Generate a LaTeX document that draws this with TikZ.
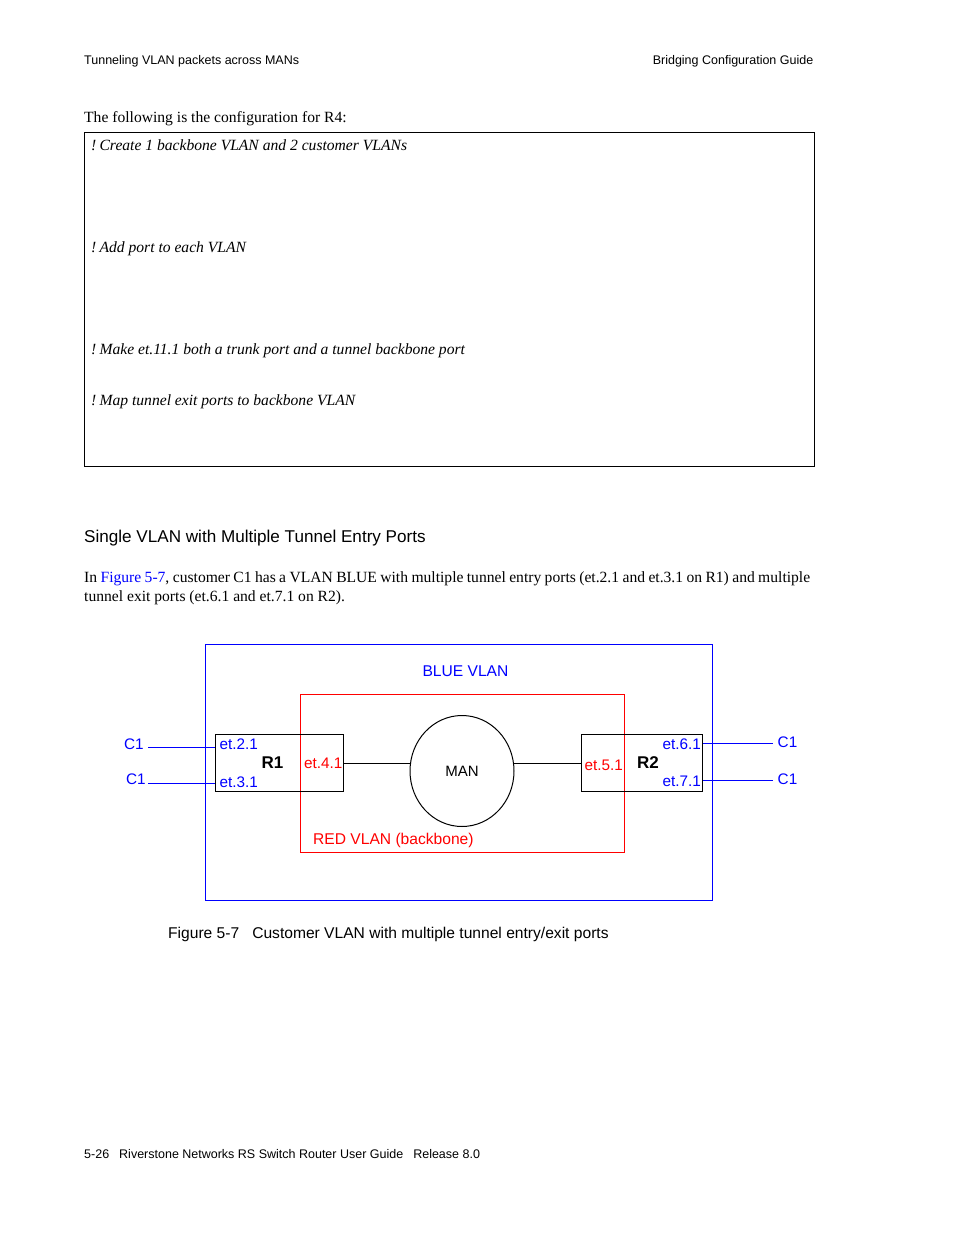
\documentclass[tikz,border=0pt]{standalone}
\usepackage{fontspec}
\setmainfont{Liberation Serif}
\setsansfont{Liberation Sans}
\usetikzlibrary{shapes.geometric}
\definecolor{lblue}{RGB}{0,0,255}
\definecolor{lred}{RGB}{255,0,0}
\tikzset{
  hdr/.style={font=\sffamily\fontsize{12.5}{15}\selectfont, inner sep=0pt},
  body/.style={font=\fontsize{15.6}{18.5}\selectfont, inner sep=0pt},
  cmt/.style={font=\itshape\fontsize{15.6}{18.5}\selectfont, inner sep=0pt, anchor=base west},
  head/.style={font=\sffamily\fontsize{17.1}{20}\selectfont, inner sep=0pt, anchor=base west},
  lbl/.style={font=\sffamily\fontsize{15.3}{18}\selectfont, inner sep=0pt},
  biglbl/.style={font=\sffamily\fontsize{15.6}{18}\selectfont, inner sep=0pt},
  rlbl/.style={font=\sffamily\bfseries\fontsize{17}{20}\selectfont, inner sep=0pt, anchor=base},
  frame/.style={draw, line width=1pt, inner sep=0pt},
  wire/.style={draw, line width=1pt},
}
\begin{document}
\begin{tikzpicture}[x=1pt,y=-1pt]
\fill[white] (0,0) rectangle (954,1235);
\useasboundingbox (0,0) rectangle (954,1235);

% page header
\node[hdr, anchor=base west] (hl) at (84,64) {Tunneling VLAN packets across MANs};
\node[hdr, anchor=base east] (hr) at (813.5,64) {Bridging Configuration Guide};

\node[body, anchor=base west] (intro) at (84,122.5) {The following is the configuration for R4:};

% configuration box
\node[frame, minimum width=730pt, minimum height=334pt] (cfg) at (449,299) {};
\node[cmt] (c1) at (91,150.5) {!\hspace{3.2pt}Create 1 backbone VLAN and 2 customer VLANs};
\node[cmt] (c2) at (91,252) {!\hspace{3.2pt}Add port to each VLAN};
\node[cmt] (c3) at (91,354) {!\hspace{3.2pt}Make et.11.1 both a trunk port and a tunnel backbone port};
\node[cmt] (c4) at (91,405) {!\hspace{3.2pt}Map tunnel exit ports to backbone VLAN};

% section heading
\node[head] (sec) at (84,542.5) {Single VLAN with Multiple Tunnel Entry Ports};

% paragraph
\node[body, anchor=base west, text width=726pt, align=justify] (para) at (84,582.5)
  {In \textcolor{lblue}{Figure 5-7}, customer C1 has a VLAN BLUE with multiple tunnel entry ports (et.2.1 and et.3.1 on R1) and multiple\linebreak tunnel exit ports (et.6.1 and et.7.1 on R2).};

% figure
\node[frame, draw=lblue, minimum width=507pt, minimum height=256pt] (blue) at (458.5,772) {};
\node[biglbl, text=lblue, anchor=base] (bluet) at (465.5,676.5) {BLUE VLAN};
\node[frame, draw=lred, minimum width=324pt, minimum height=158pt] (red) at (462,773) {};
\node[biglbl, text=lred, anchor=base west] (redt) at (313,844.5) {RED VLAN (backbone)};

\node[frame, minimum width=128pt, minimum height=57pt] (R1) at (279,762.5) {};
\node[frame, minimum width=121pt, minimum height=57pt] (R2) at (641.5,762.5) {};
\node[frame, ellipse, minimum width=104pt, minimum height=111pt, font=\sffamily\fontsize{15}{18}\selectfont] (man) at (462,771) {\raisebox{-1pt}{MAN}};

\node[rlbl] (r1t) at (272.5,768.5) {R1};
\node[rlbl] (r2t) at (648,768.5) {R2};
\node[lbl, text=lblue, anchor=base west] (e21) at (219.5,749.5) {et.2.1};
\node[lbl, text=lblue, anchor=base west] (e31) at (219.5,787.5) {et.3.1};
\node[lbl, text=lred, anchor=base east] (e41) at (342.5,768.5) {et.4.1};
\node[lbl, text=lred, anchor=base west] (e51) at (584.5,770) {et.5.1};
\node[lbl, text=lblue, anchor=base east] (e61) at (701,749) {et.6.1};
\node[lbl, text=lblue, anchor=base east] (e71) at (701,786) {et.7.1};

\node[lbl, text=lblue, anchor=base west] (ca) at (124,749) {C1};
\node[lbl, text=lblue, anchor=base west] (cb) at (126,784) {C1};
\node[lbl, text=lblue, anchor=base west] (cc) at (777.5,747.5) {C1};
\node[lbl, text=lblue, anchor=base west] (cd) at (777.5,784) {C1};

% connectors
\coordinate (la) at (148,747);
\coordinate (lb) at (148,783);
\coordinate (lc) at (773,743);
\coordinate (ld) at (773,780);
\draw[wire, lblue] (la) -- (la -| R1.west);
\draw[wire, lblue] (lb) -- (lb -| R1.west);
\draw[wire, lblue] (R2.east |- lc) -- (lc);
\draw[wire, lblue] (R2.east |- ld) -- (ld);
\coordinate (ma) at (410.5,763);
\coordinate (mb) at (513.5,763);
\draw[wire] (R1.east |- ma) -- (ma);
\draw[wire] (mb) -- (R2.west |- mb);

% caption
\node[biglbl, anchor=base west] (cap) at (168,938) {Figure 5-7\hspace{13pt}Customer VLAN with multiple tunnel entry/exit ports};

% footer
\node[hdr, anchor=base west] (foot) at (84,1158.5) {5-26\hspace{10pt}Riverstone Networks RS Switch Router User Guide\hspace{10pt}Release 8.0};
\end{tikzpicture}
\end{document}
